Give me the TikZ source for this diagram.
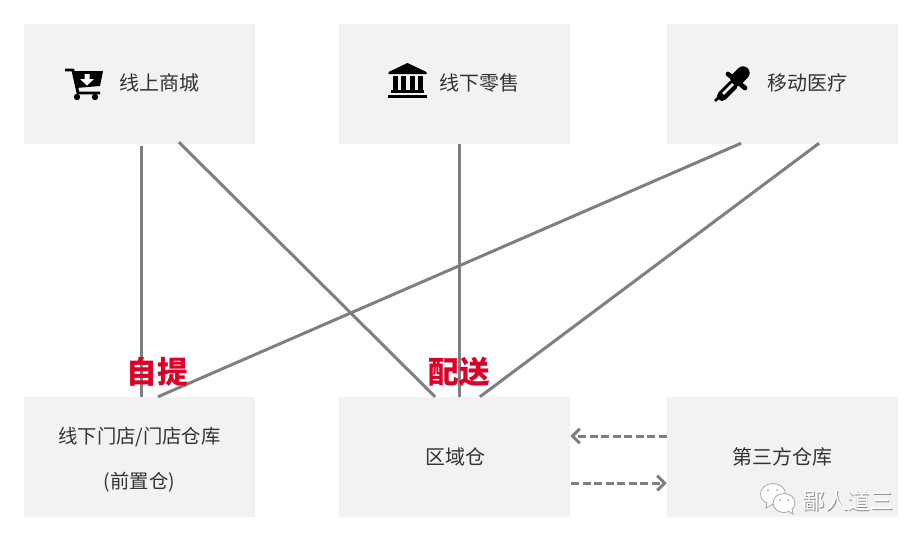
\documentclass[tikz,border=0pt]{standalone}
\usepackage{fontspec}
\setmainfont{Noto Sans CJK SC}
\usetikzlibrary{arrows.meta}
\definecolor{boxgray}{HTML}{F2F2F2}
\definecolor{linegray}{HTML}{7F7F7F}
\definecolor{textgray}{HTML}{333333}
\definecolor{markred}{HTML}{DC0028}
\tikzset{
  box/.style={fill=boxgray, minimum width=173.25pt, minimum height=90pt, inner sep=0pt, align=center, text=textgray, font=\fontsize{15pt}{33.75pt}\selectfont},
  boxtext/.style={text=textgray, inner sep=0pt, font=\fontsize{15pt}{18pt}\selectfont},
  redmark/.style={text=markred, inner sep=0pt, font=\fontsize{23pt}{27pt}\selectfont\bfseries},
  link/.style={draw=linegray, line width=2.25pt},
  dashlink/.style={draw=linegray, line width=2.25pt, dash pattern=on 6pt off 2.6pt, -{Straight Barb[length=5.5pt,width=11pt,line width=2.25pt]}},
  signtext/.style={inner sep=0pt, font=\fontsize{17pt}{20pt}\selectfont}
}
\begin{document}
\begin{tikzpicture}[x=0.75pt, y=-0.75pt, node distance=234.75pt]
    \useasboundingbox (0,0) rectangle (924,540);
    \node (shop) [box] at (139.5,84) {};
    \node (retail) [box, right of=shop, xshift=1.5pt] {};
    \node (medical) [box, right of=retail, xshift=11.25pt] {};
    \node (store) [box, below of=shop, yshift=-45pt, font=\fontsize{14.5pt}{33.75pt}\selectfont] {\rule{0pt}{16pt}线下门店/门店仓库\\(前置仓)};
    \node (region) [box, below of=retail, yshift=-45pt] {\hspace*{1pt}区域仓};
    \node (third) [box, below of=medical, yshift=-45pt] {第三方仓库};

    \node (shoplabel) [boxtext] at (159,83) {线上商城};
    \node (retaillabel) [boxtext] at (479,83) {线下零售};
    \node (medicallabel) [boxtext] at (807.5,83) {移动医疗};

    \draw[link] ([xshift=1.5pt,yshift=-1.5pt]shop.south) -- ([xshift=1.5pt]store.north);
    \draw[link] ([xshift=29.6pt,yshift=1.5pt]shop.south) -- ([xshift=-14.6pt]region.north);
    \draw[link] ([xshift=3.4pt]retail.south) -- ([xshift=3.4pt]region.north);
    \draw[link] ([xshift=-31.1pt,yshift=.75pt]medical.south) -- ([xshift=13.9pt]store.north);
    \draw[link] ([xshift=27.4pt,yshift=.75pt]medical.south) -- ([xshift=19.1pt]region.north);
    \draw[dashlink] ([yshift=15.75pt]third.west) -- ([yshift=15.75pt]region.east);
    \draw[dashlink] ([yshift=-19.5pt,xshift=.75pt]region.east) -- ([yshift=-19.5pt]third.west);

    \node (pickup) [redmark] at (157,372) {自提};
    \node (delivery) [redmark] at (459,372) {配送};

    % cart
    \draw[line width=2.2pt, line join=round] (65,70) -- (73,70) -- (78,93) -- (100,93);
    \fill (72,71) -- (103,71) -- (100,86) -- (76,88) -- cycle;
    \fill[white] (84.5,74) -- (89.5,74) -- (89.5,79) -- (94,79) -- (87,85.5) -- (80,79) -- (84.5,79) -- cycle;
    \fill (77,97) circle (3.2) (95,97) circle (3.2);

    % bank
    \fill (407.5,63) -- (426.5,72) -- (426.5,74) -- (388.5,74) -- (388.5,72) -- cycle;
    \foreach \cx in {393,401,410,418}
      \fill (\cx,76) rectangle ++(5,14);
    \fill (391,90) rectangle (424,93);
    \fill (388,95) rectangle (427,98);

    % dropper
    \draw[line width=10, line cap=round] (737,79) -- (743,73);
    \draw[line width=3.5, line cap=round] (728,74) -- (745,88);
    \draw[line width=7.5, line cap=round] (733,85) -- (722,96);
    \draw[boxgray, line width=2] (733,84) -- (723,94);
    \draw[line width=2] (720,96) -- (715,101);

    % watermark
    \draw[gray!70, fill=white, line width=.6pt] (773,494) ellipse (12.5 and 10.5);
    \draw[gray!70, fill=white, line width=.6pt] (767,502) -- (766,508) -- (773,504);
    \draw[gray!70, fill=white, line width=.6pt] (784,503) ellipse (11 and 9.5);
    \draw[gray!70, fill=white, line width=.6pt] (788,511) -- (793,514) -- (792,508);
    \fill[gray!70] (768,490) circle (1) (777,490) circle (1) (780,500) circle (1) (788,500) circle (1);
    \node (marksign) [signtext, text=gray!90] at (848.8,501.6) {鄙人道三};
    \node (marksigntop) [signtext, text=white] at (848,501) {鄙人道三};
\end{tikzpicture}
\end{document}
